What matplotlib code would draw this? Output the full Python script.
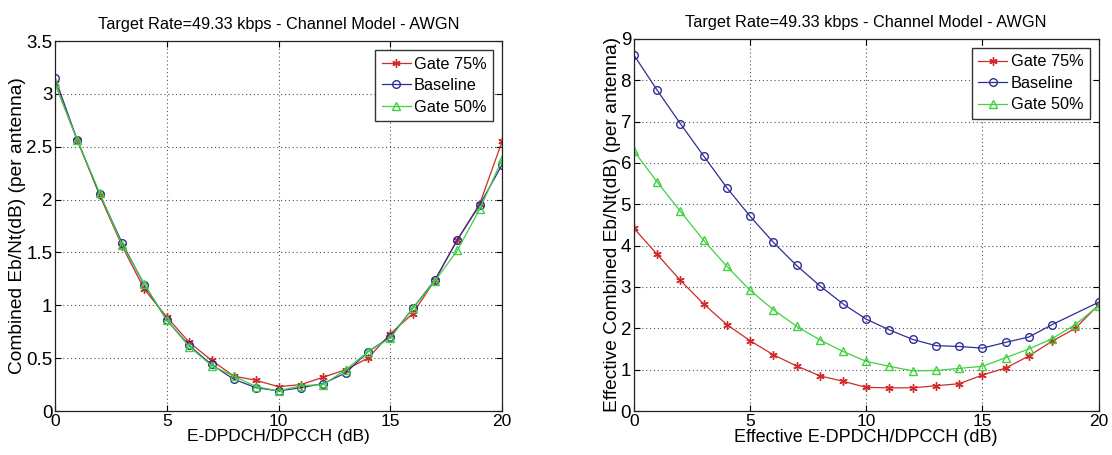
import numpy as np
import matplotlib
matplotlib.use("Agg")
import matplotlib.pyplot as plt

plt.rcParams["font.family"] = ["Liberation Sans", "DejaVu Sans"]

title = "Target Rate=49.33 kbps - Channel Model - AWGN"
x = list(range(21))

# left panel: Combined Eb/Nt vs E-DPDCH/DPCCH
left_gate75 = [3.10, 2.56, 2.04, 1.56, 1.15, 0.89, 0.65, 0.48, 0.33, 0.29, 0.23,
               0.25, 0.32, 0.39, 0.50, 0.73, 0.92, 1.24, 1.62, 1.96, 2.55]
left_base = [3.15, 2.56, 2.05, 1.59, 1.19, 0.86, 0.62, 0.44, 0.30, 0.22, 0.19,
             0.22, 0.26, 0.36, 0.56, 0.70, 0.97, 1.24, 1.62, 1.95, 2.33]
left_gate50 = [3.10, 2.56, 2.06, 1.57, 1.20, 0.86, 0.61, 0.43, 0.33, 0.23, 0.19,
               0.24, 0.25, 0.39, 0.56, 0.69, 0.97, 1.23, 1.52, 1.91, 2.38]

# right panel: effective values
right_gate75 = [4.42, 3.79, 3.16, 2.59, 2.09, 1.70, 1.36, 1.09, 0.85, 0.72, 0.57,
                0.56, 0.56, 0.61, 0.66, 0.87, 1.04, 1.33, 1.69, 2.00, 2.57]
right_base_x = [0, 1, 2, 3, 4, 5, 6, 7, 8, 9, 10, 11, 12, 13, 14, 15, 16, 17, 18, 20]
right_base = [8.61, 7.76, 6.95, 6.17, 5.40, 4.71, 4.08, 3.52, 3.03, 2.59, 2.22,
              1.96, 1.73, 1.58, 1.56, 1.52, 1.66, 1.79, 2.09, 2.63]
right_gate50 = [6.29, 5.54, 4.83, 4.13, 3.50, 2.92, 2.45, 2.05, 1.72, 1.44, 1.20,
                1.08, 0.97, 0.98, 1.03, 1.08, 1.29, 1.50, 1.75, 2.09, 2.55]

red = "#d02a2a"
blue = "#2e2e96"
green = "#3fd23f"
asterisk = (6, 2, 0)

fig = plt.figure(figsize=(11.12, 4.55), dpi=100)
ax1 = fig.add_axes([0.0495, 0.0967, 0.402, 0.813])
ax2 = fig.add_axes([0.570, 0.0967, 0.418, 0.818])


def style(ax, ylim, yticks, yticklabels, xlabel, ylabel, xlabel_size):
    ax.set_xlim(0, 20)
    ax.set_ylim(*ylim)
    ax.set_xticks([0, 5, 10, 15, 20])
    ax.set_yticks(yticks)
    ax.set_yticklabels(yticklabels)
    ax.tick_params(direction="in", top=True, right=True, length=4, pad=2)
    ax.tick_params(axis="x", labelsize=12.5)
    ax.tick_params(axis="y", labelsize=13.5)
    ax.grid(True, linestyle=(0, (1, 2.5)), color="#555555", linewidth=0.8)
    for s in ax.spines.values():
        s.set_linewidth(0.9)
        s.set_color("#222222")
    ax.set_title(title, fontsize=11.7, pad=8.5)
    ax.set_xlabel(xlabel, fontsize=xlabel_size, labelpad=0)
    ax.set_ylabel(ylabel, fontsize=13.8, labelpad=0)
    leg = ax.legend(loc="upper right", fontsize=11.7, fancybox=False, framealpha=1,
                    edgecolor="#333333", borderpad=0.4, labelspacing=0.4,
                    handlelength=1.8, handletextpad=0.2, borderaxespad=0.55)
    leg.get_frame().set_linewidth(1.0)


ax1.plot(x, left_gate75, "-", marker=asterisk, color=red, lw=0.9, ms=6, mew=1.0, label="Gate 75%")
ax1.plot(x, left_base, "-", marker="o", color=blue, lw=0.9, ms=5.5, mfc="none", label="Baseline")
ax1.plot(x, left_gate50, "-", marker="^", color=green, lw=0.9, ms=5.5, mfc="none", label="Gate 50%")
style(ax1, (0, 3.5), np.arange(0, 3.51, 0.5), ["0", "0.5", "1", "1.5", "2", "2.5", "3", "3.5"],
      "E-DPDCH/DPCCH (dB)", "Combined Eb/Nt(dB) (per antenna)", 12.5)

ax2.plot(x, right_gate75, "-", marker=asterisk, color=red, lw=0.9, ms=6, mew=1.0, label="Gate 75%")
ax2.plot(right_base_x, right_base, "-", marker="o", color=blue, lw=0.9, ms=5.5, mfc="none", label="Baseline")
ax2.plot(x, right_gate50, "-", marker="^", color=green, lw=0.9, ms=5.5, mfc="none", label="Gate 50%")
style(ax2, (0, 9), list(range(10)), [str(i) for i in range(10)],
      "Effective E-DPDCH/DPCCH (dB)", "Effective Combined Eb/Nt(dB) (per antenna)", 13)

fig.savefig("out.png", dpi=100)
